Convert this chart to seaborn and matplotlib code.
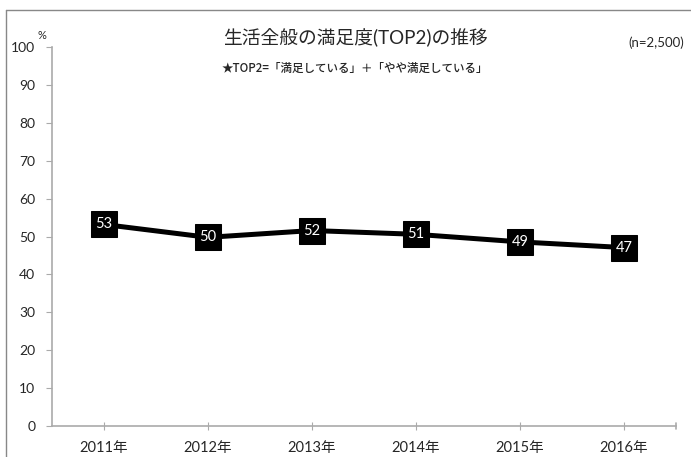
import seaborn as sns
import matplotlib.pyplot as plt
import pandas as pd
from matplotlib.lines import Line2D

years = ["2011年", "2012年", "2013年", "2014年", "2015年", "2016年"]
top2 = [53.2, 49.8, 51.6, 50.6, 48.6, 47.1]

title = "生活全般の満足度(TOP2)の推移"
subtitle = "★TOP2=「満足している」＋「やや満足している」"
note = "(n=2,500)"

sns.set_style("white")
plt.rcParams['font.family'] = ['Lato', 'Noto Sans CJK JP', 'DejaVu Sans']

df = pd.DataFrame({"year": years, "value": top2})

fig = plt.figure(figsize=(6.91, 4.57), dpi=100)
ax = fig.add_axes([0.0753, 0.0678, 0.903, 0.829])

sns.lineplot(data=df, x="year", y="value", ax=ax, color="black", lw=3.6,
             marker="s", markersize=19, markeredgecolor="black")
for i, v in enumerate(df["value"]):
    ax.text(i, v, f"{v:.0f}", color="white", ha="center", va="center",
            fontsize=10.5, zorder=5)

ax.set_xlim(-0.5, 5.5)
ax.set_ylim(0, 100)
ax.set_yticks(range(0, 101, 10))
ax.set_xlabel("")
ax.set_ylabel("")
for s in ["top", "right"]:
    ax.spines[s].set_visible(False)
for s in ["left", "bottom"]:
    ax.spines[s].set_color("#aaaaaa")
    ax.spines[s].set_linewidth(1.2)
ax.tick_params(axis="y", length=4, color="#aaaaaa", labelsize=10, pad=8, left=True)
ax.tick_params(axis="x", length=6, direction="inout", color="#aaaaaa", labelsize=10.5, pad=8, bottom=True)
# tick at right end of category axis
ax.plot([5.5, 5.5], [-0.8, 0.8], color="#aaaaaa", lw=1.2, clip_on=False)

fig.text(0.061, 0.923, "%", fontsize=8, ha="center", va="center")
fig.text(0.514, 0.918, title, fontsize=13.5, ha="center", va="center")
fig.text(0.514, 0.851, subtitle, fontsize=8.3, ha="center", va="center",
         fontweight="medium", family=['Noto Sans CJK JP', 'DejaVu Sans'])
fig.text(0.99, 0.906, note, fontsize=9.5, ha="right", va="center")

# partial frame around figure
fig.add_artist(Line2D([0.0087, 1.0], [0.978, 0.978], color="#888888", lw=1))
fig.add_artist(Line2D([0.0087, 0.0087], [0.0, 0.978], color="#888888", lw=1))

fig.savefig("out.png", dpi=100)
